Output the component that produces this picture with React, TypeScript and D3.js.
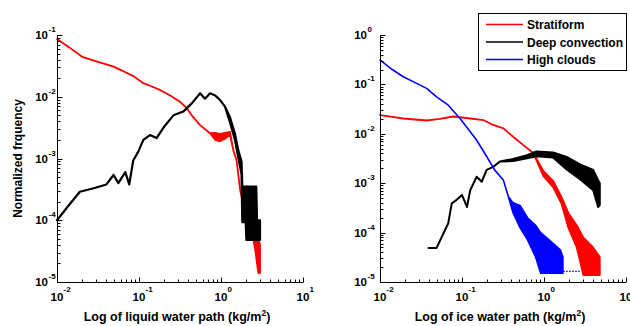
import React from "react";
import * as d3 from "d3";

// ---------- data ----------
// Left panel: liquid water path
const lwpStratX = [0.01, 0.0141, 0.0207, 0.0316, 0.0482, 0.063, 0.085, 0.113, 0.141, 0.18, 0.24, 0.316, 0.38, 0.44, 0.555, 0.735, 0.85, 0.97, 1.12, 1.29, 1.41, 1.55, 1.71, 1.9, 2.24, 2.6, 2.85, 2.99];
const lwpStratLo = [0.086, 0.063, 0.0437, 0.0368, 0.031, 0.0263, 0.0216, 0.0166, 0.0148, 0.0129, 0.0105, 0.0083, 0.0066, 0.005, 0.00347, 0.00257, 0.002, 0.0019, 0.0021, 0.0024, 0.00138, 0.00093, 0.00031, 1.58e-4, 1.0e-4, 3.5e-5, 1.4e-5, 1.4e-5];
const lwpStratHi = [0.086, 0.063, 0.0437, 0.0368, 0.031, 0.0263, 0.0216, 0.0166, 0.0148, 0.0129, 0.0105, 0.0083, 0.0066, 0.005, 0.00347, 0.00257, 0.0026, 0.0025, 0.0026, 0.0027, 0.00138, 0.00093, 0.00031, 2.5e-4, 1.58e-4, 1.0e-4, 5.0e-5, 4.0e-5];

const lwpDeepX = [0.01, 0.0141, 0.019, 0.028, 0.04, 0.049, 0.056, 0.068, 0.076, 0.085, 0.098, 0.113, 0.136, 0.164, 0.2, 0.263, 0.347, 0.44, 0.555, 0.638, 0.735, 0.85, 0.97, 1.12, 1.29, 1.48, 1.62, 1.78, 1.82, 2.0, 2.04, 2.69, 2.75, 2.99];
const lwpDeepLo = [1.0e-4, 1.78e-4, 2.9e-4, 3.3e-4, 3.8e-4, 5.4e-4, 4.0e-4, 6.0e-4, 3.8e-4, 9.3e-4, 1.29e-3, 2.0e-3, 2.4e-3, 2.14e-3, 3.2e-3, 5.0e-3, 5.75e-3, 7.8e-3, 0.01135, 0.0093, 0.01135, 0.0105, 0.0089, 0.0069, 0.0038, 0.002, 0.00105, 5.6e-4, 9.3e-5, 9.3e-5, 4.8e-5, 4.8e-5, 4.8e-5, 4.8e-5];
const lwpDeepHi = [1.0e-4, 1.78e-4, 2.9e-4, 3.3e-4, 3.8e-4, 5.4e-4, 4.0e-4, 6.0e-4, 3.8e-4, 9.3e-4, 1.29e-3, 2.0e-3, 2.4e-3, 2.14e-3, 3.2e-3, 5.0e-3, 5.75e-3, 7.8e-3, 0.01135, 0.0093, 0.01135, 0.0105, 0.0089, 0.0069, 0.0046, 0.0025, 0.00138, 8.9e-4, 3.5e-4, 3.5e-4, 3.5e-4, 3.5e-4, 1.0e-4, 1.0e-4];

// Right panel: ice water path
const iwpStratX = [0.01, 0.0141, 0.0192, 0.037, 0.0537, 0.078, 0.126, 0.182, 0.24, 0.32, 0.42, 0.56, 0.74, 0.98, 1.29, 1.64, 1.98, 2.51, 3.02, 3.98, 4.79];
const iwpStratLo = [0.024, 0.0219, 0.0204, 0.0186, 0.02, 0.0224, 0.0204, 0.019, 0.0151, 0.0129, 0.0087, 0.0059, 0.0041, 0.00141, 8.3e-4, 3.8e-4, 1.26e-4, 5.0e-5, 1.38e-5, 1.38e-5, 1.38e-5];
const iwpStratHi = [0.024, 0.0219, 0.0204, 0.0186, 0.02, 0.0224, 0.0204, 0.019, 0.0151, 0.0129, 0.0087, 0.0059, 0.0041, 0.00178, 1.12e-3, 5.2e-4, 2.5e-4, 1.41e-4, 7.9e-5, 5.0e-5, 3.2e-5];

const iwpDeepX = [0.039, 0.049, 0.068, 0.075, 0.086, 0.1, 0.115, 0.126, 0.151, 0.174, 0.2, 0.24, 0.29, 0.42, 0.62, 0.81, 1.29, 1.89, 2.75, 3.98, 4.57, 4.79];
const iwpDeepLo = [4.9e-5, 4.9e-5, 1.55e-4, 3.9e-4, 4.6e-4, 5.75e-4, 3.3e-4, 7.2e-4, 1.35e-3, 1.07e-3, 1.86e-3, 2.14e-3, 2.75e-3, 2.8e-3, 3.2e-3, 3.5e-3, 3.3e-3, 1.9e-3, 1.2e-3, 7.2e-4, 3.3e-4, 3.6e-4];
const iwpDeepHi = [4.9e-5, 4.9e-5, 1.55e-4, 3.9e-4, 4.6e-4, 5.75e-4, 3.3e-4, 7.2e-4, 1.35e-3, 1.07e-3, 1.86e-3, 2.14e-3, 2.75e-3, 3.1e-3, 3.7e-3, 4.4e-3, 4.2e-3, 3.4e-3, 2.4e-3, 1.86e-3, 1.15e-3, 1.0e-3];

const iwpHighX = [0.01, 0.0141, 0.0192, 0.028, 0.037, 0.049, 0.068, 0.0946, 0.126, 0.151, 0.2, 0.25, 0.32, 0.367, 0.42, 0.51, 0.63, 0.79, 0.91, 1.26, 1.58, 1.7];
const iwpHighLo = [0.312, 0.2, 0.143, 0.105, 0.083, 0.056, 0.038, 0.0204, 0.011, 0.0074, 0.00347, 0.00186, 0.00115, 5.4e-4, 2.5e-4, 1.26e-4, 7.1e-5, 3.2e-5, 1.5e-5, 1.5e-5, 1.5e-5, 1.5e-5];
const iwpHighHi = [0.312, 0.2, 0.143, 0.105, 0.083, 0.056, 0.038, 0.0204, 0.011, 0.0074, 0.00347, 0.00186, 0.00115, 5.4e-4, 4.0e-4, 3.55e-4, 2.0e-4, 1.41e-4, 1.0e-4, 6.3e-5, 4.5e-5, 3.2e-5];
const iwpHighTailX = [1.7, 2.8];
const iwpHighTailY = [1.65e-5, 1.65e-5];

const legendLabels = ["Stratiform", "Deep convection", "High clouds"];
const seriesColors = ["#ff0000", "#000000", "#0000ff"];

const FONT = "'Liberation Sans', Arial, Helvetica, sans-serif";

type Band = { x: number[]; lo: number[]; hi: number[]; color: string; w: number };

function decadeTicks(minExp: number, maxExp: number) {
  const major: number[] = [];
  const minor: number[] = [];
  for (let e = minExp; e <= maxExp; e++) {
    major.push(e);
    if (e < maxExp) for (let k = 2; k <= 9; k++) minor.push(k * Math.pow(10, e));
  }
  return { major, minor };
}

function Panel(props: {
  x0: number; x1: number; y0: number; y1: number;
  yMinExp: number; yMaxExp: number; labelGap: number;
  bands: Band[]; xlabel: string; ylabel?: string;
  extra?: (x: d3.ScaleLogarithmic<number, number>, y: d3.ScaleLogarithmic<number, number>) => React.ReactNode;
}) {
  const { x0, x1, y0, y1, yMinExp, yMaxExp, labelGap, bands } = props;
  const x = d3.scaleLog().domain([1e-2, 1e1]).range([x0, x1]);
  const y = d3.scaleLog().domain([Math.pow(10, yMinExp), Math.pow(10, yMaxExp)]).range([y1, y0]);
  const xt = decadeTicks(-2, 1);
  const yt = decadeTicks(yMinExp, yMaxExp);
  const ax = Math.round(x0) + 0.5;
  const ay = Math.round(y1) + 0.5;
  return (
    <g>
      {bands.map((b, i) => {
        const pts = b.x.map((v, j) => ({ x: v, lo: b.lo[j], hi: b.hi[j] }));
        const area = d3.area<any>().x((d) => x(d.x)).y0((d) => y(d.lo)).y1((d) => y(d.hi));
        return (
          <path key={i} d={area(pts) || ""} fill={b.color} stroke={b.color}
            strokeWidth={b.w} strokeLinejoin="round" strokeLinecap="round" />
        );
      })}
      {props.extra && props.extra(x, y)}
      {/* axes */}
      <line x1={ax} x2={ax} y1={y0} y2={ay} stroke="#000" strokeWidth={1} />
      <line x1={ax} x2={x1} y1={ay} y2={ay} stroke="#000" strokeWidth={1} />
      {xt.major.map((e) => (
        <line key={"xM" + e} x1={Math.round(x(Math.pow(10, e))) + 0.5} x2={Math.round(x(Math.pow(10, e))) + 0.5} y1={ay} y2={ay - 5} stroke="#000" />
      ))}
      {xt.minor.map((v, i) => (
        <line key={"xm" + i} x1={Math.round(x(v)) + 0.5} x2={Math.round(x(v)) + 0.5} y1={ay} y2={ay - 3} stroke="#000" />
      ))}
      {yt.major.map((e) => (
        <line key={"yM" + e} y1={Math.round(y(Math.pow(10, e))) + 0.5} y2={Math.round(y(Math.pow(10, e))) + 0.5} x1={ax} x2={ax + 5} stroke="#000" />
      ))}
      {yt.minor.map((v, i) => (
        <line key={"ym" + i} y1={Math.round(y(v)) + 0.5} y2={Math.round(y(v)) + 0.5} x1={ax} x2={ax + 3} stroke="#000" />
      ))}
      {/* tick labels */}
      {xt.major.map((e) => {
        const px = x(Math.pow(10, e));
        return (
          <g key={"xl" + e} fontFamily={FONT} fontWeight="bold">
            <text x={px} y={301} fontSize={11.5} textAnchor="middle">10</text>
            <text x={px + 6.5} y={292} fontSize={8}>{String(e)}</text>
          </g>
        );
      })}
      {yt.major.map((e) => {
        const py = y(Math.pow(10, e));
        return (
          <g key={"yl" + e} fontFamily={FONT} fontWeight="bold">
            <text x={x0 - labelGap} y={py + 4} fontSize={11.5} textAnchor="end">10</text>
            <text x={x0 - labelGap + 0.5} y={py - 3} fontSize={8}>{String(e)}</text>
          </g>
        );
      })}
      <text x={(x0 + x1) / 2 - 3} y={321} fontFamily={FONT} fontWeight="bold" fontSize={12.5} textAnchor="middle">
        {props.xlabel}
        <tspan fontSize={8.5} dy={-5}>2</tspan>
        <tspan dy={5}>)</tspan>
      </text>
      {props.ylabel && (
        <text transform={`translate(22,${(y0 + y1) / 2}) rotate(-90)`} fontFamily={FONT} fontWeight="bold" fontSize={12} textAnchor="middle">
          {props.ylabel}
        </text>
      )}
    </g>
  );
}

export default function App() {
  const leftBands: Band[] = [
    { x: lwpStratX, lo: lwpStratLo, hi: lwpStratHi, color: seriesColors[0], w: 1.8 },
    { x: lwpDeepX, lo: lwpDeepLo, hi: lwpDeepHi, color: seriesColors[1], w: 2.2 },
  ];
  const rightBands: Band[] = [
    { x: iwpStratX, lo: iwpStratLo, hi: iwpStratHi, color: seriesColors[0], w: 1.8 },
    { x: iwpDeepX, lo: iwpDeepLo, hi: iwpDeepHi, color: seriesColors[1], w: 2.0 },
    { x: iwpHighX, lo: iwpHighLo, hi: iwpHighHi, color: seriesColors[2], w: 1.6 },
  ];
  return (
    <svg width={630} height={326} style={{ position: "absolute", left: 0, top: 0, background: "#fff" }}>
      <rect x={0} y={0} width={630} height={326} fill="#fff" />
      <Panel x0={57} x1={303} y0={35} y1={282} yMinExp={-5} yMaxExp={-1} labelGap={9}
        bands={leftBands} xlabel="Log of liquid water path (kg/m" ylabel="Normalized frquency" />
      <Panel x0={380} x1={626} y0={35} y1={282} yMinExp={-5} yMaxExp={0} labelGap={13}
        bands={rightBands} xlabel="Log of ice water path (kg/m"
        extra={(x, y) => {
          const line = d3.line<number>().x((d, i) => x(iwpHighTailX[i])).y((d) => y(d));
          return <path d={line(iwpHighTailY) || ""} fill="none" stroke={seriesColors[2]} strokeWidth={1} strokeDasharray="2,1" />;
        }} />
      {/* legend */}
      <rect x={478.5} y={13.5} width={148} height={57} fill="#fff" stroke="#000" strokeWidth={1} />
      {legendLabels.map((lab, i) => {
        const ly = 24.5 + i * 17.5;
        return (
          <g key={lab}>
            <line x1={486} x2={523} y1={ly} y2={ly} stroke={seriesColors[i]} strokeWidth={1.5} />
            <text x={527} y={ly + 4.5} fontFamily={FONT} fontWeight="bold" fontSize={12}>{lab}</text>
          </g>
        );
      })}
    </svg>
  );
}
